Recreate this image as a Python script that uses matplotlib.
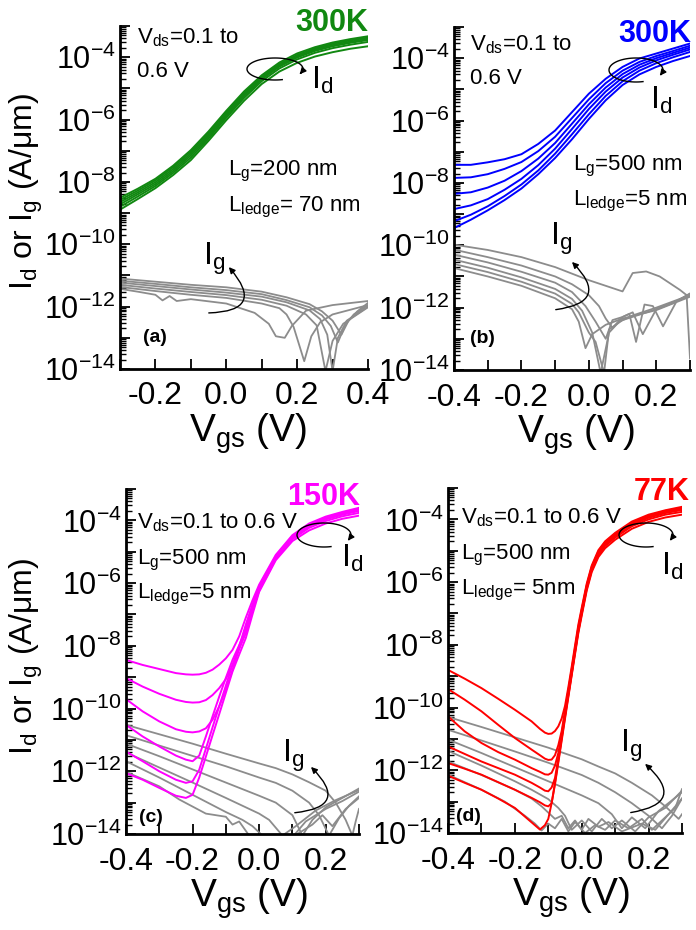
import numpy as np
import matplotlib
matplotlib.use("Agg")
import matplotlib.pyplot as plt
from matplotlib.ticker import LogLocator, MultipleLocator, FuncFormatter, NullFormatter
from matplotlib.patches import FancyArrowPatch
from matplotlib.lines import Line2D

# ---------------- data (log10 of current, A/um) ----------------
# (a) 300K, Lg=200 nm, Lledge=70 nm ; curves for Vds = 0.1 ... 0.6 V
A_VGS = [-0.30, -0.25, -0.20, -0.15, -0.10, -0.05, 0.00, 0.05, 0.10, 0.15, 0.20, 0.25, 0.30, 0.35, 0.40]
A_ID = [
    [-8.89, -8.55, -8.20, -7.78, -7.30, -6.68, -6.02, -5.40, -4.86, -4.46, -4.18, -3.98, -3.84, -3.73, -3.65],
    [-8.80, -8.47, -8.13, -7.71, -7.22, -6.61, -5.94, -5.31, -4.77, -4.36, -4.07, -3.86, -3.71, -3.60, -3.51],
    [-8.72, -8.40, -8.07, -7.65, -7.15, -6.55, -5.88, -5.25, -4.71, -4.30, -4.01, -3.80, -3.65, -3.54, -3.45],
    [-8.65, -8.34, -8.01, -7.59, -7.09, -6.49, -5.83, -5.20, -4.67, -4.26, -3.97, -3.76, -3.61, -3.50, -3.41],
    [-8.58, -8.28, -7.95, -7.53, -7.03, -6.43, -5.77, -5.15, -4.63, -4.22, -3.93, -3.72, -3.57, -3.46, -3.37],
    [-8.51, -8.22, -7.90, -7.48, -6.98, -6.38, -5.72, -5.10, -4.58, -4.17, -3.88, -3.68, -3.53, -3.42, -3.33],
]
A_IG_VGS = [
    [-0.30, -0.25, -0.20, -0.18, -0.16, -0.14, -0.10, 0.00, 0.08, 0.12, 0.14, 0.165, 0.185, 0.225, 0.30, 0.40],
    [-0.30, -0.20, -0.10, 0.00, 0.10, 0.15, 0.17, 0.19, 0.22, 0.24, 0.265, 0.30, 0.40],
    [-0.30, -0.20, -0.10, 0.00, 0.10, 0.17, 0.225, 0.255, 0.28, 0.30, 0.33, 0.40],
    [-0.30, -0.20, -0.10, 0.00, 0.10, 0.17, 0.235, 0.265, 0.285, 0.30, 0.315, 0.34, 0.40],
    [-0.30, -0.20, -0.10, 0.00, 0.10, 0.17, 0.235, 0.27, 0.295, 0.315, 0.335, 0.36, 0.40],
    [-0.30, -0.20, -0.10, 0.00, 0.10, 0.17, 0.235, 0.27, 0.30, 0.325, 0.345, 0.37, 0.40],
]
A_IG = [
    [-11.43, -11.52, -11.62, -11.80, -11.66, -11.82, -11.76, -11.90, -12.20, -12.55, -12.95, -13.00, -12.62, -12.13, -11.95, -11.82],
    [-11.37, -11.50, -11.62, -11.72, -11.90, -12.05, -12.25, -12.65, -13.75, -12.95, -12.50, -12.25, -11.95],
    [-11.30, -11.42, -11.53, -11.63, -11.78, -11.97, -12.25, -12.60, -14.07, -13.10, -12.55, -12.02],
    [-11.23, -11.34, -11.45, -11.55, -11.68, -11.86, -12.12, -12.40, -12.90, -14.07, -13.00, -12.45, -12.00],
    [-11.17, -11.27, -11.38, -11.47, -11.60, -11.79, -12.02, -12.28, -12.62, -13.15, -12.60, -12.25, -11.95],
    [-11.10, -11.20, -11.30, -11.38, -11.52, -11.70, -11.92, -12.15, -12.45, -12.90, -12.45, -12.15, -11.88],
]

# (b) 300K, Lg=500 nm, Lledge=5 nm
B_VGS = [-0.40, -0.35, -0.30, -0.25, -0.20, -0.15, -0.10, -0.05, 0.00, 0.05, 0.10, 0.15, 0.20, 0.25, 0.30]
B_ID = [
    [-9.45, -9.18, -8.88, -8.55, -8.18, -7.72, -7.20, -6.60, -5.95, -5.35, -4.86, -4.52, -4.28, -4.09, -3.93],
    [-9.23, -9.02, -8.75, -8.42, -8.05, -7.60, -7.06, -6.44, -5.80, -5.21, -4.74, -4.40, -4.16, -3.97, -3.80],
    [-8.84, -8.72, -8.52, -8.22, -7.87, -7.43, -6.90, -6.27, -5.63, -5.07, -4.62, -4.30, -4.07, -3.89, -3.72],
    [-8.35, -8.30, -8.15, -7.93, -7.62, -7.22, -6.72, -6.10, -5.48, -4.94, -4.51, -4.21, -4.00, -3.83, -3.66],
    [-7.84, -7.82, -7.72, -7.55, -7.33, -6.98, -6.52, -5.92, -5.32, -4.80, -4.40, -4.12, -3.93, -3.77, -3.60],
    [-7.42, -7.42, -7.34, -7.24, -7.08, -6.75, -6.32, -5.73, -5.14, -4.66, -4.28, -4.01, -3.85, -3.69, -3.53],
]
B_IG_VGS = [
    [-0.40, -0.30, -0.20, -0.10, -0.05, -0.03, -0.01, 0.01, 0.05, 0.10, 0.20, 0.30],
    [-0.40, -0.30, -0.20, -0.10, -0.05, -0.03, 0.00, 0.02, 0.045, 0.06, 0.10, 0.20, 0.30],
    [-0.40, -0.30, -0.20, -0.10, -0.05, -0.02, 0.01, 0.035, 0.06, 0.09, 0.13, 0.20, 0.30],
    [-0.40, -0.30, -0.20, -0.10, -0.05, -0.01, 0.02, 0.05, 0.07, 0.10, 0.13, 0.16, 0.20, 0.25, 0.30],
    [-0.40, -0.30, -0.20, -0.10, -0.05, 0.00, 0.03, 0.05, 0.07, 0.10, 0.12, 0.14, 0.165, 0.19, 0.22, 0.26, 0.30],
    [-0.40, -0.30, -0.20, -0.10, 0.00, 0.05, 0.10, 0.13, 0.17, 0.21, 0.27, 0.29, 0.30],
]
B_IG = [
    [-10.73, -11.00, -11.30, -11.70, -12.05, -12.45, -13.30, -12.85, -12.55, -12.35, -12.08, -11.65],
    [-10.60, -10.86, -11.17, -11.55, -11.88, -12.15, -12.80, -13.10, -14.10, -12.70, -12.40, -12.05, -11.62],
    [-10.46, -10.72, -11.03, -11.40, -11.72, -12.10, -12.80, -14.10, -12.80, -12.45, -12.25, -12.00, -11.60],
    [-10.30, -10.55, -10.85, -11.20, -11.50, -11.95, -12.45, -13.00, -12.40, -12.30, -12.15, -12.85, -12.05, -11.85, -11.55],
    [-10.14, -10.38, -10.65, -11.00, -11.25, -11.60, -11.95, -12.35, -12.65, -12.30, -12.20, -13.10, -11.90, -11.95, -12.60, -11.80, -11.55],
    [-9.98, -10.15, -10.38, -10.70, -11.12, -11.30, -11.48, -10.89, -10.84, -11.00, -11.43, -11.60, -13.63],
]

# (c) 150K, Lg=500 nm, Lledge=5 nm
C_VGS = [-0.40, -0.35, -0.30, -0.25, -0.22, -0.20, -0.18, -0.16, -0.14, -0.12, -0.10,
         -0.08, -0.06, -0.04, -0.02, 0.00, 0.05, 0.10, 0.15, 0.20, 0.25, 0.30]
C_ID = [
    [-12.06, -12.27, -12.53, -12.78, -12.85, -12.75, -12.20, -11.53, -10.85, -10.18, -9.50,
     -8.82, -8.28, -7.75, -7.00, -6.28, -5.27, -4.66, -4.32, -4.10, -3.95, -3.85],
    [-11.37, -11.68, -12.00, -12.27, -12.37, -12.32, -11.95, -11.28, -10.60, -9.93, -9.27,
     -8.60, -8.10, -7.60, -6.90, -6.24, -5.23, -4.60, -4.24, -4.02, -3.87, -3.76],
    [-10.52, -10.89, -11.21, -11.50, -11.63, -11.68, -11.50, -10.89, -10.25, -9.62, -9.02,
     -8.45, -7.98, -7.48, -6.82, -6.20, -5.20, -4.56, -4.19, -3.97, -3.82, -3.70],
    [-9.70, -10.09, -10.41, -10.66, -10.74, -10.76, -10.73, -10.63, -10.36, -9.93, -9.40,
     -8.77, -8.10, -7.40, -6.75, -6.14, -5.17, -4.53, -4.16, -3.94, -3.79, -3.66],
    [-9.03, -9.30, -9.53, -9.72, -9.79, -9.81, -9.80, -9.73, -9.57, -9.35, -9.06,
     -8.62, -8.02, -7.32, -6.68, -6.10, -5.14, -4.50, -4.13, -3.91, -3.76, -3.63],
    [-8.45, -8.61, -8.74, -8.87, -8.91, -8.92, -8.91, -8.86, -8.76, -8.60, -8.40,
     -8.13, -7.70, -7.10, -6.55, -6.05, -5.10, -4.47, -4.10, -3.88, -3.73, -3.60],
]
C_IG_VGS = [
    [-0.40, -0.30, -0.24, -0.16, -0.10, -0.08, -0.06, -0.03, 0.10, 0.16, 0.19, 0.22, 0.26, 0.30],
    [-0.40, -0.30, -0.20, -0.10, -0.05, -0.02, 0.01, 0.10, 0.14, 0.20, 0.25, 0.30],
    [-0.40, -0.30, -0.20, -0.10, 0.00, 0.03, 0.07, 0.11, 0.17, 0.23, 0.30],
    [-0.40, -0.30, -0.20, -0.10, 0.00, 0.05, 0.10, 0.13, 0.16, 0.20, 0.25, 0.30],
    [-0.40, -0.30, -0.20, -0.10, 0.00, 0.05, 0.10, 0.15, 0.18, 0.21, 0.24, 0.27, 0.30],
    [-0.40, -0.30, -0.20, -0.10, 0.00, 0.05, 0.10, 0.15, 0.20, 0.23, 0.26, 0.28, 0.29, 0.30],
]
C_IG = [
    [-12.02, -12.48, -12.90, -13.35, -13.45, -13.70, -13.60, -14.05, -14.10, -13.70, -13.40, -13.75, -13.20, -12.85],
    [-11.68, -12.20, -12.75, -13.30, -13.55, -13.75, -14.05, -14.10, -13.60, -13.20, -12.95, -12.65],
    [-11.40, -11.88, -12.36, -12.85, -13.35, -13.55, -14.05, -13.75, -13.25, -12.92, -12.60],
    [-11.12, -11.52, -11.94, -12.36, -12.78, -13.00, -13.40, -14.05, -13.55, -13.15, -12.85, -12.55],
    [-10.85, -11.18, -11.51, -11.84, -12.20, -12.37, -12.62, -13.00, -13.40, -14.05, -13.50, -13.10, -12.80],
    [-10.52, -10.82, -11.12, -11.44, -11.75, -11.90, -12.10, -12.35, -12.62, -13.00, -13.55, -14.05, -13.60, -13.20],
]

# (d) 77K, Lg=500 nm, Lledge=5 nm
D_VGS = [-0.40, -0.35, -0.30, -0.25, -0.20, -0.15, -0.125, -0.11, -0.10, -0.09, -0.08, -0.07, -0.06, -0.05,
         -0.04, -0.03, -0.02, -0.01, 0.00, 0.015, 0.03, 0.05, 0.07, 0.10, 0.15, 0.20, 0.25, 0.30]
D_ID = [
    [-12.17, -12.40, -12.62, -12.90, -13.20, -13.66, -13.89, -13.75, -13.55, -13.05, -12.45, -11.76, -11.06, -10.36,
     -9.67, -8.98, -8.30, -7.62, -7.07, -6.27, -5.68, -5.20, -4.92, -4.65, -4.30, -4.08, -3.94, -3.85],
    [-11.77, -11.95, -12.14, -12.38, -12.62, -12.88, -13.02, -13.12, -13.15, -13.05, -12.40, -11.70, -11.00, -10.30,
     -9.62, -8.94, -8.25, -7.57, -7.02, -6.22, -5.63, -5.14, -4.85, -4.58, -4.22, -4.00, -3.85, -3.76],
    [-11.24, -11.48, -11.72, -11.93, -12.14, -12.40, -12.55, -12.65, -12.67, -12.55, -12.25, -11.62, -10.93, -10.24,
     -9.58, -8.90, -8.21, -7.53, -6.98, -6.18, -5.59, -5.09, -4.80, -4.53, -4.17, -3.95, -3.80, -3.70],
    [-10.28, -10.76, -11.13, -11.42, -11.66, -11.93, -12.05, -12.13, -12.14, -12.08, -11.85, -11.45, -10.85, -10.18,
     -9.52, -8.85, -8.16, -7.48, -6.93, -6.14, -5.55, -5.05, -4.76, -4.49, -4.13, -3.91, -3.76, -3.66],
    [-9.41, -9.75, -10.12, -10.55, -10.97, -11.34, -11.52, -11.63, -11.67, -11.66, -11.52, -11.20, -10.75, -10.10,
     -9.45, -8.78, -8.10, -7.43, -6.88, -6.10, -5.51, -5.02, -4.73, -4.46, -4.10, -3.88, -3.73, -3.63],
    [-8.80, -9.08, -9.38, -9.72, -10.07, -10.44, -10.68, -10.80, -10.84, -10.83, -10.75, -10.60, -10.35, -9.95,
     -9.35, -8.70, -8.02, -7.35, -6.82, -6.05, -5.47, -4.98, -4.70, -4.43, -4.07, -3.85, -3.71, -3.60],
]
D_IG_VGS = [
    [-0.40, -0.30, -0.23, -0.17, -0.14, -0.12, -0.10, -0.08, -0.06, -0.04, -0.02, 0.01, 0.04, 0.07, 0.10,
     0.14, 0.18, 0.21, 0.25, 0.28, 0.30],
    [-0.40, -0.30, -0.20, -0.15, -0.12, -0.10, -0.08, -0.06, -0.04, -0.02, 0.00, 0.02, 0.05, 0.08, 0.12,
     0.18, 0.22, 0.26, 0.30],
    [-0.40, -0.30, -0.20, -0.15, -0.10, -0.07, -0.05, -0.03, 0.00, 0.03, 0.06, 0.09, 0.12, 0.16, 0.20, 0.25, 0.30],
    [-0.40, -0.30, -0.20, -0.10, 0.00, 0.05, 0.09, 0.12, 0.15, 0.19, 0.23, 0.30],
    [-0.40, -0.30, -0.20, -0.10, 0.00, 0.05, 0.10, 0.15, 0.20, 0.24, 0.27, 0.30],
    [-0.40, -0.30, -0.20, -0.10, 0.00, 0.05, 0.10, 0.15, 0.21, 0.25, 0.29, 0.30],
]
D_IG = [
    [-12.14, -12.62, -13.00, -13.45, -13.70, -13.92, -13.70, -13.85, -13.55, -13.95, -13.65, -14.00, -13.75, -13.90, -13.60,
     -13.85, -13.55, -13.90, -13.50, -13.20, -12.60],
    [-11.72, -12.15, -12.62, -12.90, -13.15, -13.35, -13.55, -13.45, -13.85, -13.60, -13.90, -13.55, -13.80, -13.65, -13.95,
     -13.70, -13.90, -13.40, -12.90],
    [-11.38, -11.85, -12.35, -12.62, -12.92, -13.20, -13.45, -13.90, -13.60, -13.95, -13.55, -13.85, -13.60, -13.95, -13.50, -13.20, -12.65],
    [-11.02, -11.45, -11.90, -12.35, -12.80, -13.05, -13.40, -13.85, -13.50, -13.85, -13.30, -12.70],
    [-10.71, -11.05, -11.40, -11.76, -12.15, -12.40, -12.70, -13.05, -13.45, -13.85, -13.45, -12.90],
    [-10.30, -10.62, -10.95, -11.28, -11.65, -11.88, -12.10, -12.40, -12.80, -13.15, -13.55, -13.40],
]

# ---------------- style ----------------
plt.rcParams["font.family"] = ["Liberation Sans", "DejaVu Sans"]
plt.rcParams["mathtext.fontset"] = "custom"
plt.rcParams["mathtext.rm"] = "Liberation Sans"
plt.rcParams["mathtext.it"] = "Liberation Sans:italic"
plt.rcParams["mathtext.bf"] = "Liberation Sans:bold"
plt.rcParams["mathtext.sf"] = "Liberation Sans"
plt.rcParams["mathtext.default"] = "regular"
plt.rcParams["axes.unicode_minus"] = False

W, H = 696, 930
GRAY = "#8c8c8c"
fig = plt.figure(figsize=(W / 100, H / 100), dpi=100)


def fxy(px, py):
    return px / W, 1 - py / H


def make_axes(x0, y0, x1, y1, xlim):
    ax = fig.add_axes([x0 / W, 1 - y1 / H, (x1 - x0) / W, (y1 - y0) / H])
    ax.set_yscale("log")
    ax.set_xlim(*xlim)
    ax.set_ylim(1e-14, 1e-3)
    for side in ("top", "right"):
        ax.spines[side].set_visible(False)
    for side in ("left", "bottom"):
        ax.spines[side].set_linewidth(2)
    ax.xaxis.set_major_locator(MultipleLocator(0.2))
    ax.xaxis.set_minor_locator(MultipleLocator(0.1))
    ax.xaxis.set_major_formatter(FuncFormatter(lambda v, p: f"{v:.1f}"))
    ax.yaxis.set_major_locator(LogLocator(base=10, numticks=30))
    ax.yaxis.set_minor_locator(LogLocator(base=10, subs=np.arange(2, 10), numticks=100))
    ax.yaxis.set_minor_formatter(NullFormatter())
    ax.yaxis.set_major_formatter(FuncFormatter(
        lambda v, p: (r"$10^{%d}$" % round(np.log10(v))) if round(np.log10(v)) % 2 == 0 else ""))
    ax.tick_params(axis="x", which="both", direction="in", length=7, width=1.3,
                   labelsize=23, pad=9, top=False)
    ax.tick_params(axis="y", which="major", direction="in", length=7, width=1.3,
                   labelsize=22, pad=3, right=False)
    ax.tick_params(axis="y", which="minor", direction="in", length=4, width=1.0, right=False)
    return ax


def draw(ax, vgs, id_curves, ig_vgs, ig_curves, color):
    for xs, ys in zip(ig_vgs, ig_curves):
        ax.plot(xs, 10 ** np.array(ys), color=GRAY, lw=1.3)
    for ys in id_curves:
        ax.plot(vgs, 10 ** np.array(ys), color=color, lw=1.4)


def txt(px, py, s, size=16, **kw):
    fig.text(*fxy(px, py), s, fontsize=size, va="baseline", **kw)


def loop_arrow(cx, cy, a, b):
    t = np.radians(np.linspace(285, -28, 90))
    xs = (cx + a * np.cos(t)) / W
    ys = (H - cy + b * np.sin(t)) / H
    fig.add_artist(Line2D(xs[:-2], ys[:-2], transform=fig.transFigure, color="k", lw=1.0))
    fig.add_artist(FancyArrowPatch((xs[-6], ys[-6]), (xs[-1], ys[-1]), transform=fig.transFigure,
                                   arrowstyle="-|>", mutation_scale=9, color="k", lw=1.0))


def bend_arrow(x0, y0, x1, y1, rad):
    fig.add_artist(FancyArrowPatch(fxy(x0, y0), fxy(x1, y1), transform=fig.transFigure,
                                   connectionstyle=f"arc3,rad={rad}", arrowstyle="-|>",
                                   mutation_scale=9, color="k", lw=1.0))


ax_a = make_axes(120, 26, 368, 369, (-0.3, 0.4))
ax_b = make_axes(454, 27, 690, 370, (-0.4, 0.3))
ax_c = make_axes(126, 489, 359, 834, (-0.4, 0.3))
ax_d = make_axes(448, 488, 682, 833, (-0.4, 0.3))

draw(ax_a, A_VGS, A_ID, A_IG_VGS, A_IG, "#118811")
draw(ax_b, B_VGS, B_ID, B_IG_VGS, B_IG, "#0000ff")
draw(ax_c, C_VGS, C_ID, C_IG_VGS, C_IG, "#ff00ff")
draw(ax_d, D_VGS, D_ID, D_IG_VGS, D_IG, "#ff0000")

# axis labels
for cx, by in [(248, 442), (576, 443), (249, 907), (571, 906)]:
    txt(cx, by, r"$V_{gs}$ (V)", size=28, ha="center")
for cy in (192, 657):
    fig.text(*fxy(26, cy), r"$I_d$ or $I_g$ (A/μm)", fontsize=23, rotation=90,
             ha="center", va="center")

# panel (a)
txt(137, 43, r"$V_{ds}$=0.1 to")
txt(137, 77, "0.6 V")
txt(228, 175, r"$L_g$=200 nm")
txt(228, 211, r"$L_{ledge}$= 70 nm")
txt(368, 31, "300K", size=22, ha="right", color="#118811", weight="bold")
txt(311, 89, r"$I_d$", size=23)
txt(203, 265, r"$I_g$", size=23)
txt(143, 342, "(a)", size=14, weight="bold")
loop_arrow(275, 69, 28, 11)
bend_arrow(206, 313, 227, 265, 1.1)

# panel (b)
txt(470, 50, r"$V_{ds}$=0.1 to")
txt(470, 84, "0.6 V")
txt(573, 170, r"$L_g$=500 nm")
txt(573, 205, r"$L_{ledge}$=5 nm")
txt(691, 42, "300K", size=22, ha="right", color="#0000ff", weight="bold")
txt(650, 109, r"$I_d$", size=23)
txt(550, 245, r"$I_g$", size=23)
txt(470, 343, "(b)", size=14, weight="bold")
loop_arrow(636, 70, 27, 12)
bend_arrow(553, 310, 570, 260, 1.05)

# panel (c)
txt(137, 528, r"$V_{ds}$=0.1 to 0.6 V")
txt(137, 564, r"$L_g$=500 nm")
txt(137, 598, r"$L_{ledge}$=5 nm")
txt(360, 505, "150K", size=22, ha="right", color="#ff00ff", weight="bold")
txt(341, 567, r"$I_d$", size=23)
txt(282, 762, r"$I_g$", size=23)
txt(139, 822, "(c)", size=14, weight="bold")
loop_arrow(324, 535, 27, 12)
bend_arrow(292, 813, 309, 765, 1.1)

# panel (d)
txt(461, 523, r"$V_{ds}$=0.1 to 0.6 V")
txt(461, 559, r"$L_g$=500 nm")
txt(461, 594, r"$L_{ledge}$= 5nm")
txt(690, 500, "77K", size=22, ha="right", color="#ff0000", weight="bold")
txt(661, 575, r"$I_d$", size=23)
txt(620, 752, r"$I_g$", size=23)
txt(456, 821, "(d)", size=14, weight="bold")
loop_arrow(646, 535, 27, 12)
bend_arrow(628, 813, 643, 762, 1.08)

fig.savefig("out.png", dpi=100)
